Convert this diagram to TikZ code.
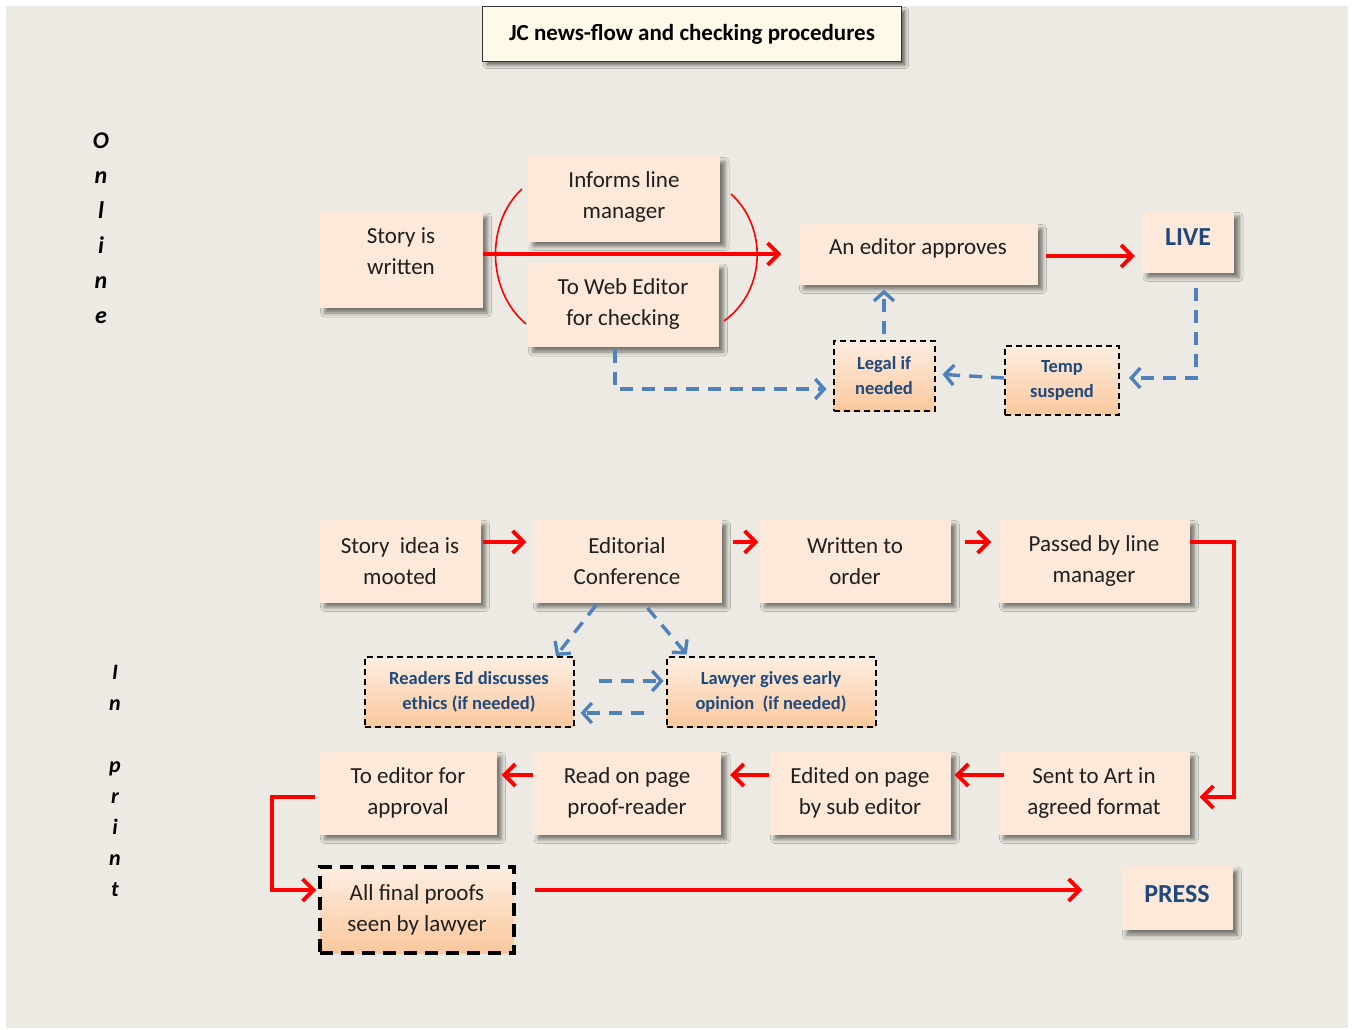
\documentclass[tikz,border=0pt]{standalone}
\usepackage{fontspec}
\setmainfont{Carlito}
\usetikzlibrary{arrows.meta,calc,positioning,shadows.blur}
\definecolor{paper}{RGB}{236,234,226}
\definecolor{boxpeach}{RGB}{253,233,217}
\definecolor{optpeach}{RGB}{253,238,226}
\definecolor{optorange}{RGB}{250,200,156}
\definecolor{titlecream}{RGB}{255,249,233}
\definecolor{flowred}{RGB}{255,0,0}
\definecolor{checkblue}{RGB}{79,129,189}
\definecolor{textblue}{RGB}{31,73,125}
\tikzset{
  stepbox/.style={fill=boxpeach, text=black!88, align=center,
                  inner sep=2pt, font=\fontsize{23}{31}\selectfont,
                  blur shadow={shadow xshift=5pt, shadow yshift=-5pt,
                               shadow blur radius=4pt, shadow opacity=50}},
  endbox/.style={stepbox, text=textblue, font=\fontsize{26}{31}\selectfont\bfseries},
  optbox/.style={draw=black, line width=2pt, dash pattern=on 6pt off 4pt,
                 top color=optpeach, bottom color=optorange,
                 text=textblue, align=center, inner sep=2pt,
                 font=\fontsize{18.5}{25}\selectfont\bfseries},
  finalbox/.style={draw=black, line width=3.5pt, dash pattern=on 13pt off 8pt,
                   top color=optpeach, bottom color=optorange,
                   text=black!88, align=center, inner sep=2pt,
                   font=\fontsize{23}{31}\selectfont},
  titlebox/.style={draw=black!80, line width=1.5pt, fill=titlecream,
                   font=\fontsize{23}{28}\selectfont\bfseries, text=black,
                   blur shadow={shadow xshift=4pt, shadow yshift=-4pt,
                                shadow blur radius=3pt, shadow opacity=50}},
  sidelab/.style={align=center, text=black},
  flow/.style={flowred, line width=3.8pt,
               -{Straight Barb[length=11pt,width=22pt]}},
  check/.style={checkblue, line width=3.4pt, dash pattern=on 13pt off 9pt,
                -{Straight Barb[length=9pt,width=20pt]}},
  bracket/.style={flowred, line width=1.6pt},
}
\begin{document}
\begin{tikzpicture}[x=1pt,y=-1pt]
  \path[use as bounding box] (0,0) rectangle (1352,1030);
  \fill[paper] (6,6) rectangle (1348,1028);

  \node[titlebox, minimum width=419pt, minimum height=55pt] (title) at (692,34)
    {JC news-flow and checking procedures};

  % side labels
  \node[sidelab, font=\fontsize{24}{35}\selectfont\bfseries\itshape] (online)
    at (101,228) {O\\n\\l\\i\\n\\e};
  \node[sidelab, font=\fontsize{22}{31}\selectfont\bfseries\itshape] (inprint)
    at (115,781) {I\\n\\\mbox{}\\p\\r\\i\\n\\t};

  % online
  \node[stepbox, minimum width=163pt, minimum height=96pt, text depth=18pt] (story) at (401,260)
    {Story is\\written};
  \node[stepbox, minimum width=192pt, minimum height=85pt, text depth=8pt] (inform) at (624,199)
    {Informs line\\manager};
  \node[stepbox, minimum width=191pt, minimum height=84pt, text depth=6pt] (web) at (623,305)
    {To Web Editor\\for checking};
  \node[stepbox, minimum width=239pt, minimum height=61pt, text depth=14pt] (editor) at (918,254)
    {An editor approves};
  \node[endbox, minimum width=92pt, minimum height=61pt, text depth=10pt] (live) at (1188,242)
    {LIVE};
  \node[optbox, minimum width=101pt, minimum height=70pt] (legal) at (884,376)
    {Legal if\\needed};
  \node[optbox, minimum width=114pt, minimum height=69pt] (temp) at (1062,380)
    {Temp\\suspend};

  \draw[bracket] (522,189) .. controls (486,222) and (486,290) .. (526,324);
  \draw[bracket] (731,194) .. controls (767,226) and (767,290) .. (724,321);

  \draw[flow, shorten >=17pt] (story.east |- editor.west) -- (editor.west);
  \draw[flow, shorten <=8pt, shorten >=7pt] ([yshift=-2pt]editor.east) -- ([yshift=-2pt]editor.east -| live.west);
  \draw[check, shorten >=9pt] ([xshift=8pt,yshift=-15pt]live.south) |- ([yshift=2pt]temp.east);
  \draw[check, shorten >=7pt] ([yshift=2pt]temp.west) -- ([yshift=2pt]legal.east);
  \draw[check, shorten <=6pt, shorten >=5pt] (legal.north) -- (editor.south -| legal.north);
  \draw[check, shorten >=6pt] ([xshift=-8pt,yshift=-3pt]web.south) |- ([yshift=-13pt]legal.west);

  % in print
  \node[stepbox, minimum width=161pt, minimum height=83pt] (mooted) at (400,561)
    {Story~ idea is\\mooted};
  \node[stepbox, minimum width=189pt, minimum height=83pt] (conf) at (627,561)
    {Editorial\\Conference};
  \node[stepbox, minimum width=191pt, minimum height=83pt] (written) at (855,561)
    {Written to\\order};
  \node[stepbox, minimum width=191pt, minimum height=83pt] (passed) at (1094,561)
    {Passed by line\\manager};
  \node[optbox, minimum width=209pt, minimum height=70pt] (readers) at (469,692)
    {Readers Ed discusses\\ethics (if needed)};
  \node[optbox, minimum width=209pt, minimum height=70pt] (lawyer) at (771,692)
    {Lawyer gives early\\opinion~ (if needed)};
  \node[stepbox, minimum width=177pt, minimum height=83pt] (toed) at (408,793)
    {To editor for\\approval};
  \node[stepbox, minimum width=188pt, minimum height=83pt] (read) at (627,793)
    {Read on page\\proof-reader};
  \node[stepbox, minimum width=181pt, minimum height=83pt] (edited) at (860,793)
    {Edited on page\\by sub editor};
  \node[stepbox, minimum width=191pt, minimum height=83pt] (sent) at (1094,793)
    {Sent to Art in\\agreed format};
  \node[finalbox, minimum width=194pt, minimum height=86pt] (final) at (417,910)
    {All final proofs\\seen by lawyer};
  \node[endbox, minimum width=111pt, minimum height=64pt, text depth=8pt] (press) at (1177,898)
    {PRESS};

  \draw[flow, shorten <=2pt, shorten >=6pt] ([yshift=19pt]mooted.east) -- ([yshift=19pt]conf.west);
  \draw[flow, shorten <=11pt, shorten >=1pt] ([yshift=19pt]conf.east) -- ([yshift=19pt]written.west);
  \draw[flow, shorten <=14pt, shorten >=7pt] ([yshift=19pt]written.east) -- ([yshift=19pt]passed.west);
  \draw[flow, shorten >=10pt] ([yshift=19pt]passed.east) -- ++(44,0) |- ([yshift=-4pt]sent.east);
  \draw[flow, shorten <=-6pt, shorten >=4pt] ([yshift=18pt]sent.west) -- ([yshift=18pt]edited.east);
  \draw[flow, shorten >=9pt] ([yshift=18pt]edited.west) -- ([yshift=18pt]read.east);
  \draw[flow, shorten >=5pt] ([yshift=18pt]read.west) -- ([yshift=18pt]toed.east);
  \draw[flow, shorten >=2pt] ([xshift=-4pt,yshift=-4pt]toed.west) -- ++(-43,0) |- ([yshift=20pt]final.west);
  \draw[flow, shorten <=19pt, shorten >=39pt] ([yshift=20pt]final.east) -- ([yshift=20pt]final.east -| press.west);

  \draw[check, shorten <=3pt] ([xshift=-29pt]conf.south) -- ([xshift=87pt]readers.north);
  \draw[check, shorten <=7pt, shorten >=2pt] ([xshift=16pt]conf.south) -- ([xshift=-83pt]lawyer.north);
  \draw[check, shorten <=24pt, shorten >=2pt] ([yshift=11pt]readers.east) -- ([yshift=11pt]lawyer.west);
  \draw[check, shorten <=22pt, shorten >=6pt] ([yshift=-21pt]lawyer.west) -- ([yshift=-21pt]readers.east);
\end{tikzpicture}
\end{document}
